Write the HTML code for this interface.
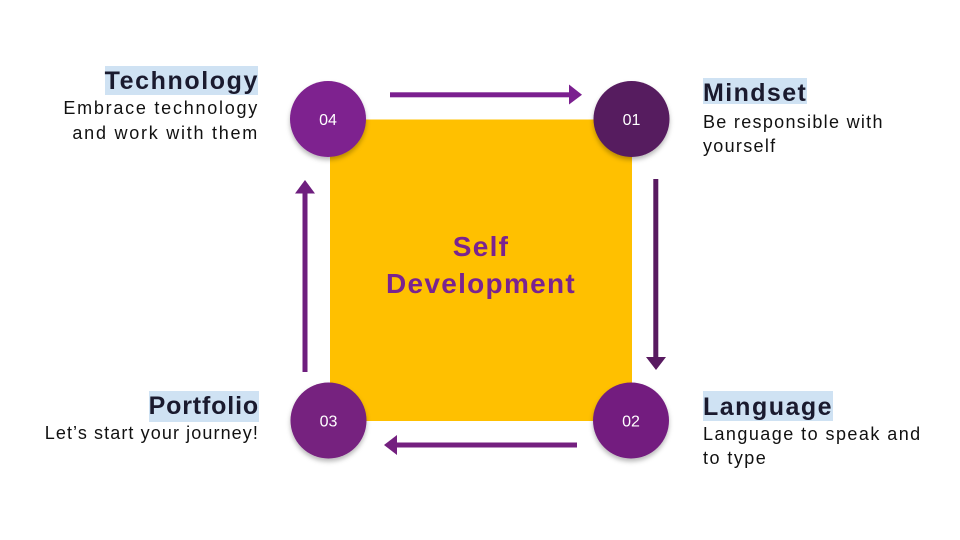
<!DOCTYPE html>
<html>
<head>
<meta charset="utf-8">
<style>
  html,body{margin:0;padding:0;background:#fff;}
  #wrap{position:relative;width:960px;height:540px;overflow:hidden;background:#fff;font-family:"Liberation Sans",sans-serif;}
  svg{position:absolute;left:0;top:0;}
  .hl{position:absolute;background:#CFE2F3;}
  .t{position:absolute;font-weight:bold;font-size:25px;line-height:25px;color:#1a1a2e;letter-spacing:1.2px;white-space:nowrap;}
  .d{position:absolute;font-size:18px;line-height:25px;color:#111;letter-spacing:1.3px;white-space:nowrap;}
  .r{text-align:right;}
  .c{position:absolute;font-weight:bold;font-size:28px;line-height:28px;color:#7A2390;letter-spacing:1.3px;white-space:nowrap;text-align:center;width:300px;left:331px;}
</style>
</head>
<body>
<div id="wrap">
<svg width="960" height="540" viewBox="0 0 960 540">
  <defs>
    <filter id="sh" x="-30%" y="-30%" width="160%" height="170%">
      <feDropShadow dx="0" dy="3" stdDeviation="2.5" flood-color="#000" flood-opacity="0.28"/>
    </filter>
  </defs>
  <rect x="330" y="119.5" width="302" height="301.5" fill="#FFC000"/>
  <!-- top arrow -->
  <rect x="390" y="92.3" width="180" height="5" fill="#7B1F8F"/>
  <polygon points="569,84.5 582,94.8 569,104.5" fill="#7B1F8F"/>
  <!-- right arrow -->
  <rect x="653.3" y="179" width="5" height="179" fill="#581A60"/>
  <polygon points="646,357 666,357 656,370" fill="#581A60"/>
  <!-- bottom arrow -->
  <rect x="397" y="442.5" width="180" height="5" fill="#74207F"/>
  <polygon points="397,435 384,445 397,455" fill="#74207F"/>
  <!-- left arrow -->
  <rect x="302.5" y="193" width="5" height="179" fill="#6E1E7E"/>
  <polygon points="295,193.5 315,193.5 305,180" fill="#6E1E7E"/>
  <!-- circles -->
  <g filter="url(#sh)">
    <circle cx="328" cy="119" r="38" fill="#7E208F"/>
    <circle cx="631.5" cy="119" r="38" fill="#571A5F"/>
    <circle cx="631" cy="420.5" r="38" fill="#731F7F"/>
    <circle cx="328.5" cy="420.5" r="38" fill="#76207F"/>
  </g>
  <g font-family="Liberation Sans, sans-serif" font-size="16" fill="#fff" text-anchor="middle">
    <text x="328" y="125">04</text>
    <text x="631.5" y="125">01</text>
    <text x="631" y="426.5">02</text>
    <text x="328.5" y="426.5">03</text>
  </g>
</svg>

<!-- Technology -->
<div class="hl" style="left:105px;top:66px;width:153px;height:29px;"></div>
<div class="t r" style="right:701px;top:68.8px;letter-spacing:1.6px;">Technology</div>
<div class="d r" style="right:701px;top:96.3px;letter-spacing:1.75px;">Embrace technology<br>and work with them</div>

<!-- Mindset -->
<div class="hl" style="left:703px;top:78px;width:104px;height:26px;"></div>
<div class="t" style="left:703px;top:80.5px;letter-spacing:1.4px;">Mindset</div>
<div class="d" style="left:703px;top:109.6px;line-height:24px;">Be responsible with<br>yourself</div>

<!-- Language -->
<div class="hl" style="left:703px;top:391px;width:130px;height:30px;"></div>
<div class="t" style="left:703px;top:394.8px;letter-spacing:1.5px;">Language</div>
<div class="d" style="left:703px;top:421.8px;line-height:24px;letter-spacing:1.45px;">Language to speak and<br>to type</div>

<!-- Portfolio -->
<div class="hl" style="left:149px;top:391px;width:110px;height:30.5px;"></div>
<div class="t r" style="right:701px;top:393.8px;letter-spacing:0.85px;">Portfolio</div>
<div class="d r" style="right:701px;top:421.3px;letter-spacing:1.1px;">Let’s start your journey!</div>

<!-- Center -->
<div class="c" style="top:233px;">Self</div>
<div class="c" style="top:269.6px;">Development</div>
</div>
</body>
</html>
